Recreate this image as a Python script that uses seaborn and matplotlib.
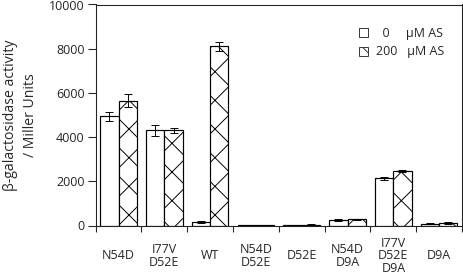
import numpy as np
import pandas as pd
import matplotlib
matplotlib.use("Agg")
import matplotlib.pyplot as plt
from matplotlib.patches import Patch
import seaborn as sns

sns.set_style('ticks')
plt.rcParams['font.family'] = ['Open Sans', 'DejaVu Sans']
plt.rcParams['hatch.linewidth'] = 0.8

# data
groups = ["N54D", "I77V\nD52E", "WT", "N54D\nD52E", "D52E",
          "N54D\nD9A", "I77V\nD52E\nD9A", "D9A"]
as_0 = [4950, 4320, 150, 5, 25, 250, 2130, 80]
as_200 = [5650, 4300, 8100, 30, 40, 280, 2460, 120]
err_0 = [200, 250, 40, 5, 10, 40, 80, 20]
err_200 = [300, 100, 200, 5, 10, 30, 30, 30]
conditions = ["0", "200"]
legend_labels = ["  0     μM AS", "200   μM AS"]

df = pd.DataFrame({
    "group": groups * 2,
    "cond": ["0"] * len(groups) + ["200"] * len(groups),
    "value": as_0 + as_200,
})

DPI = 86
fig = plt.figure(figsize=(463 / DPI, 274 / DPI), dpi=DPI)
ax = fig.add_axes([95.7 / 463, 1 - 225.5 / 274, (462 - 95.7) / 463, (225.5 - 4.5) / 274])

sns.barplot(data=df, x="group", y="value", hue="cond", hue_order=conditions,
            palette=["white", "white"], edgecolor="black", linewidth=1.0,
            width=0.8, legend=False, ax=ax)

errs = [err_0, err_200]
bar_conts = list(ax.containers)
for i, cont in enumerate(bar_conts):
    xs = [p.get_x() + p.get_width() / 2 for p in cont.patches]
    hs = [p.get_height() for p in cont.patches]
    if i == 1:
        for p in cont.patches:
            p.set_hatch('x')
    ax.errorbar(xs, hs, yerr=errs[i], fmt='none', ecolor='black',
                elinewidth=0.8, capsize=3.4, capthick=0.8)

ax.set_ylim(0, 10000)
ax.set_xlim(-0.5, len(groups) - 0.5)
ax.set_yticks(np.arange(0, 10001, 2000))
ax.set_xticks(np.arange(-0.5, len(groups), 1), minor=True)
ax.set_xlabel("")
ax.set_ylabel("β-galactosidase activity\n/ Miller Units", fontsize=11.7,
              linespacing=1.5, labelpad=9)

ax.tick_params(axis='y', direction='out', length=6.7, width=0.9, pad=2.5, labelsize=10.5)
ax.tick_params(axis='x', which='major', length=0, pad=25.5, labelsize=10.5)
ax.tick_params(axis='x', which='minor', direction='out', length=5, width=0.9)

for s in ax.spines.values():
    s.set_linewidth(0.9)
    s.set_color('#222222')

handles = [Patch(facecolor='white', edgecolor='#333333', linewidth=0.8),
           Patch(facecolor='white', edgecolor='#333333', linewidth=0.8, hatch='x')]
ax.legend(handles, legend_labels, frameon=False, fontsize=10.5,
          loc='upper right', bbox_to_anchor=(0.981, 0.95), handlelength=0.75,
          handleheight=0.75, handletextpad=0.6, labelspacing=0.45)

for lbl in ax.get_xticklabels():
    lbl.set_va('center')
    lbl.set_linespacing(0.95)

fig.savefig("out.png", dpi=DPI)
